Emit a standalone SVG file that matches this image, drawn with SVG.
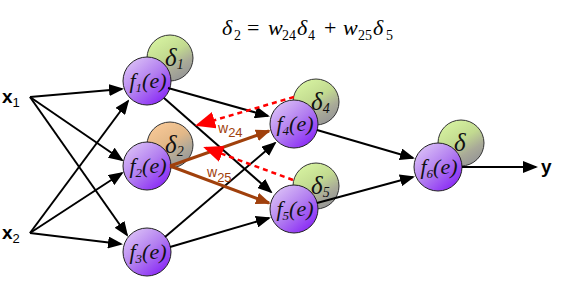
<svg xmlns="http://www.w3.org/2000/svg" width="567" height="288" viewBox="0 0 567 288">
<defs>
<linearGradient id="gP" x1="0.15" y1="0.1" x2="0.85" y2="0.9">
<stop offset="0" stop-color="#d8bcf6"/>
<stop offset="0.5" stop-color="#b27ef0"/>
<stop offset="1" stop-color="#8a2af6"/>
</linearGradient>
<linearGradient id="gG" x1="0.2" y1="0.05" x2="0.75" y2="0.95">
<stop offset="0" stop-color="#d6f2a0"/>
<stop offset="0.45" stop-color="#c2da90"/>
<stop offset="0.75" stop-color="#a9aa98"/>
<stop offset="1" stop-color="#969696"/>
</linearGradient>
<linearGradient id="gO" x1="0.2" y1="0.05" x2="0.75" y2="0.95">
<stop offset="0" stop-color="#f8c896"/>
<stop offset="0.45" stop-color="#e2b888"/>
<stop offset="0.75" stop-color="#b0a898"/>
<stop offset="1" stop-color="#969696"/>
</linearGradient>
<marker id="aK" markerUnits="userSpaceOnUse" markerWidth="15" markerHeight="12" refX="13" refY="6" orient="auto">
<path d="M0,0 L15,6 L0,12 z" fill="#000"/>
</marker>
<marker id="aB" markerUnits="userSpaceOnUse" markerWidth="15" markerHeight="12" refX="13" refY="6" orient="auto">
<path d="M0,0 L15,6 L0,12 z" fill="#a0400c"/>
</marker>
<marker id="aR" markerUnits="userSpaceOnUse" markerWidth="20" markerHeight="17" refX="17" refY="8.5" orient="auto">
<path d="M0,0 L20,8.5 L0,17 z" fill="#ff0000"/>
</marker>
</defs>
<style>
.f{fill:url(#gP);stroke:#222;stroke-width:1}
.d{fill:url(#gG);stroke:#333;stroke-width:1}
.do{fill:url(#gO);stroke:#333;stroke-width:1}
.ft{font-family:"Liberation Serif","Times New Roman",serif;font-style:italic;font-size:22px;fill:#111}
.dt{font-family:"Liberation Serif","Times New Roman",serif;font-style:italic;font-size:25px;fill:#111}
.sb{font-size:13px}
.sd{font-size:14px}
.k{stroke:#000;stroke-width:2;fill:none;marker-end:url(#aK)}
.b{stroke:#a0400c;stroke-width:3;fill:none;marker-end:url(#aB)}
.r{stroke:#ff0000;stroke-width:2.5;stroke-dasharray:5 4;fill:none;marker-end:url(#aR)}
.lab{font-family:"Liberation Sans",Arial,sans-serif;font-weight:bold;font-size:19px;fill:#000}
.w{font-family:"Liberation Sans",Arial,sans-serif;font-size:14px;fill:#a0400c}
.eq{font-family:"Liberation Serif","Times New Roman",serif;font-size:22px;fill:#000}
</style>
<rect width="567" height="288" fill="#fff"/>

<g id="equation">
<text class="eq" y="35"><tspan x="222" font-style="italic">δ</tspan><tspan x="234" y="40" font-size="14">2</tspan><tspan x="247" y="35">=</tspan><tspan x="268" font-style="italic">w</tspan><tspan x="282" y="40" font-size="14">24</tspan><tspan x="297" y="35" font-style="italic">δ</tspan><tspan x="308" y="40" font-size="14">4</tspan><tspan x="324" y="35">+</tspan><tspan x="343" font-style="italic">w</tspan><tspan x="358" y="40" font-size="14">25</tspan><tspan x="373" y="35" font-style="italic">δ</tspan><tspan x="386" y="40" font-size="14">5</tspan></text>
</g>

<g id="x1"><text class="lab" x="2" y="103">x<tspan font-size="13" font-weight="normal" dy="4">1</tspan></text></g>
<g id="x2"><text class="lab" x="2" y="239">x<tspan font-size="13" font-weight="normal" dy="4">2</tspan></text></g>
<g id="y"><text class="lab" x="541" y="173">y</text></g>

<g id="n1">
<circle class="d" cx="170" cy="58" r="23"/>
<circle class="f" cx="147" cy="81" r="24"/>
<text class="dt" x="165" y="66">δ<tspan class="sd" dy="3">1</tspan></text>
<text class="ft" x="148" y="88" text-anchor="middle">f<tspan class="sb" dy="4">1</tspan><tspan dy="-4">(e)</tspan></text>
</g>
<g id="n2">
<circle class="do" cx="170" cy="145" r="23"/>
<circle class="f" cx="147" cy="166" r="24"/>
<text class="dt" x="165" y="153">δ<tspan class="sd" dy="3">2</tspan></text>
<text class="ft" x="148" y="173" text-anchor="middle">f<tspan class="sb" dy="4">2</tspan><tspan dy="-4">(e)</tspan></text>
</g>
<g id="n3">
<circle class="f" cx="147" cy="252" r="24"/>
<text class="ft" x="148" y="259" text-anchor="middle">f<tspan class="sb" dy="4">3</tspan><tspan dy="-4">(e)</tspan></text>
</g>
<g id="n4">
<circle class="d" cx="316" cy="102" r="23"/>
<circle class="f" cx="294" cy="124" r="24"/>
<text class="dt" x="311" y="110">δ<tspan class="sd" dy="3">4</tspan></text>
<text class="ft" x="295" y="131" text-anchor="middle">f<tspan class="sb" dy="4">4</tspan><tspan dy="-4">(e)</tspan></text>
</g>
<g id="n5">
<circle class="d" cx="316" cy="186" r="23"/>
<circle class="f" cx="294" cy="209" r="24"/>
<text class="dt" x="311" y="194">δ<tspan class="sd" dy="3">5</tspan></text>
<text class="ft" x="295" y="216" text-anchor="middle">f<tspan class="sb" dy="4">5</tspan><tspan dy="-4">(e)</tspan></text>
</g>
<g id="n6">
<circle class="d" cx="461" cy="143" r="23"/>
<circle class="f" cx="438" cy="167" r="24"/>
<text class="dt" x="454" y="151">δ</text>
<text class="ft" x="439" y="174" text-anchor="middle">f<tspan class="sb" dy="4">6</tspan><tspan dy="-4">(e)</tspan></text>
</g>

<g id="connectors">
<line class="k" x1="30" y1="97" x2="122" y2="89"/>
<line class="k" x1="30" y1="233" x2="128" y2="101"/>
<line class="k" x1="30" y1="97" x2="122" y2="160"/>
<line class="k" x1="30" y1="233" x2="122" y2="173"/>
<line class="k" x1="30" y1="97" x2="127" y2="235"/>
<line class="k" x1="30" y1="233" x2="121" y2="244"/>
<line class="k" x1="168" y1="88" x2="268" y2="116"/>
<line class="k" x1="164" y1="98" x2="271" y2="192"/>
<line class="k" x1="165" y1="237" x2="275" y2="143"/>
<line class="k" x1="170" y1="247" x2="269" y2="218"/>
<line class="k" x1="317" y1="130" x2="413" y2="158"/>
<line class="k" x1="317" y1="203" x2="413" y2="177"/>
<line class="k" x1="462" y1="167" x2="536" y2="167"/>
<line class="b" x1="170" y1="166" x2="269" y2="131"/>
<line class="b" x1="170" y1="166" x2="269" y2="203"/>
<line class="r" x1="294" y1="97" x2="198" y2="125"/>
<line class="r" x1="293" y1="180" x2="206" y2="148"/>
</g>

<g id="weights">
<text class="w" x="218" y="133">w<tspan font-size="13" dy="4">24</tspan></text>
<text class="w" x="207" y="177">w<tspan font-size="13" dy="5">25</tspan></text>
</g>
</svg>
